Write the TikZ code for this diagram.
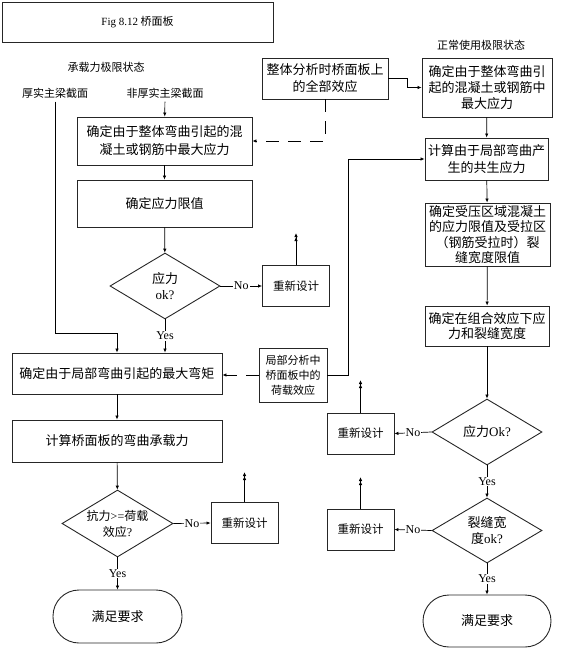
\documentclass[tikz,border=0pt]{standalone}
\usepackage{fontspec}
\setmainfont{Noto Sans CJK SC}
\newfontfamily\latn{Liberation Serif}
\usetikzlibrary{shapes.geometric,arrows.meta,positioning}

\begin{document}
\begin{tikzpicture}[x=1pt,y=-1pt,
	box/.style={draw=black!85,line width=0.9pt,inner sep=0pt,align=center,font=\fontsize{13}{18}\selectfont},
	redo/.style={box,minimum width=67pt,minimum height=41pt,font=\fontsize{11.5}{15}\selectfont},
	dia/.style={draw=black!85,line width=0.9pt,diamond,aspect=1.67,inner sep=-6pt,minimum width=110pt,minimum height=66pt,align=center,font=\fontsize{13}{16}\selectfont},
	term/.style={box,rounded corners=26pt},
	lbl/.style={font=\fontsize{11}{13}\selectfont},
	yn/.style={fill=white,inner sep=1pt,font=\latn\fontsize{12}{13}\selectfont},
	conn/.style={line width=0.7pt,-{Latex[length=4pt,width=3.5pt]}},
	redoup/.style={line width=0.9pt,-{Latex[length=4pt,width=3.5pt]Latex[length=4pt,width=3.5pt]}},
	dashline/.style={conn,dash pattern=on 13pt off 9pt}]
	\useasboundingbox (0,0) rectangle (568,650);
	\node[box,minimum width=271pt,minimum height=40pt,font=\fontsize{11}{13}\selectfont] (title) at (137.5,22) {{\latn Fig 8.12} 桥面板};
	\node[lbl] (ultimate) at (106,67) {承载力极限状态};
	\node[lbl] (thick) at (55,93) {厚实主梁截面};
	\node[lbl] (thin) at (165,93) {非厚实主梁截面};
	\node[lbl] (service) at (481,45) {正常使用极限状态};
	\node[box,minimum width=175pt,minimum height=48pt] (global) at (164.5,141) {确定由于整体弯曲引起的混\\凝土或钢筋中最大应力};
	\node[box,minimum width=175pt,minimum height=47pt] (limit) at (164.5,203.5) {确定应力限值};
	\node[dia] (okA) at (165,286) {应力\\{\latn ok?}};
	\node[redo] (redoA) at (296,286) {重新设计};
	\node[box,minimum width=210pt,minimum height=41pt] (moment) at (117,373.5) {确定由于局部弯曲引起的最大弯矩};
	\node[box,minimum width=68pt,minimum height=54pt,font=\fontsize{11}{15}\selectfont] (local) at (293,375) {局部分析中\\桥面板中的\\荷载效应};
	\node[box,minimum width=210pt,minimum height=42pt] (capacity) at (117,441) {计算桥面板的弯曲承载力};
	\node[dia,minimum width=111pt,minimum height=67pt,font=\fontsize{12}{16}\selectfont] (okB) at (117.5,523.5) {抗力{\latn >=}荷载\\效应{\latn ?}};
	\node[redo] (redoB) at (244.5,523) {重新设计};
	\node[term,minimum width=129pt,minimum height=53pt] (endA) at (117.5,616.5) {满足要求};
	\node[box,minimum width=126pt,minimum height=41pt,font=\fontsize{13}{17}\selectfont] (whole) at (325,78.5) {整体分析时桥面板上\\的全部效应};
	\node[box,minimum width=130pt,minimum height=59pt,font=\fontsize{13}{16}\selectfont] (sglobal) at (487,87.5) {确定由于整体弯曲引\\起的混凝土或钢筋中\\最大应力};
	\node[box,minimum width=123pt,minimum height=42pt,font=\fontsize{13}{17}\selectfont] (second) at (486.5,159) {计算由于局部弯曲产\\生的共生应力};
	\node[box,minimum width=125pt,minimum height=63pt,font=\fontsize{13}{15.5}\selectfont] (slimit) at (487.5,234.5) {确定受压区域混凝土\\的应力限值及受拉区\\（钢筋受拉时）裂\\缝宽度限值};
	\node[box,minimum width=124pt,minimum height=40pt,font=\fontsize{13}{15}\selectfont] (combined) at (487,326) {确定在组合效应下应\\力和裂缝宽度};
	\node[dia] (okC) at (487,432) {应力{\latn Ok?}};
	\node[redo] (redoC) at (360.5,433.5) {重新设计};
	\node[dia,minimum height=65pt] (okD) at (487,530.5) {裂缝宽\\度{\latn ok?}};
	\node[redo] (redoD) at (360.5,529.5) {重新设计};
	\node[term,minimum width=128pt,minimum height=52pt] (endB) at (487,621) {满足要求};
	\coordinate (turnA) at (117,333);
	\coordinate (topA) at (296,233);
	\coordinate (topB) at (244.5,472);
	\coordinate (topC) at (360.5,380);
	\coordinate (topD) at (360.5,477);
	\draw[conn] (thin) -- (global);
	\draw[conn] (thick.south) |- (turnA) -- (moment.north);
	\draw[conn] (global) -- (limit);
	\draw[conn] (limit) -- (okA);
	\draw[conn] (okA.east) -- node[yn]{No} (redoA.west);
	\draw[redoup] (redoA.north) -- (topA);
	\draw[conn] (okA.south) -- node[yn]{Yes} (okA.south |- moment.north);
	\draw[dashline] (local.west) -- (local.west -| moment.east);
	\draw[conn] (moment) -- (capacity);
	\draw[conn] (capacity) -- (okB);
	\draw[conn] (okB.east) -- node[yn]{No} (redoB.west);
	\draw[redoup] (redoB.north) -- (topB);
	\draw[conn] (okB.south) -- node[yn]{Yes} (endA.north);
	\draw[dashline] (whole.south) |- (global.east);
	\draw[conn] (whole.east) -- ++(19,0) |- (sglobal.west);
	\draw[conn] (local.east) -- ++(21,0) |- (second.west);
	\draw[conn] (sglobal) -- (second);
	\draw[conn] (second) -- (slimit);
	\draw[conn] (slimit) -- (combined);
	\draw[conn] (combined) -- (okC);
	\draw[conn] (okC.west) -- node[yn]{No} (redoC.east);
	\draw[redoup] (redoC.north) -- (topC);
	\draw[conn] (okC.south) -- node[yn]{Yes} (okD.north);
	\draw[conn] (okD.west) -- node[yn]{No} (redoD.east);
	\draw[redoup] (redoD.north) -- (topD);
	\draw[conn] (okD.south) -- node[yn]{Yes} (endB.north);
\end{tikzpicture}
\end{document}
